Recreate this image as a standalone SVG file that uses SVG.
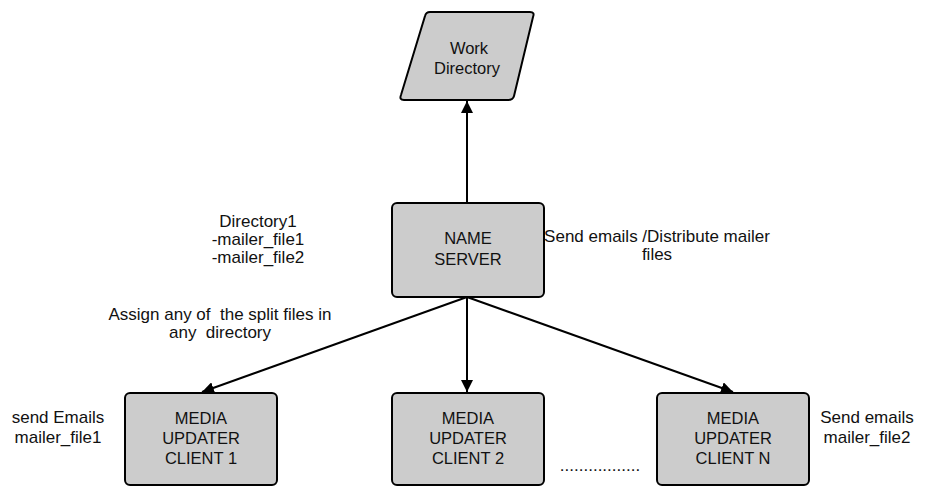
<svg xmlns="http://www.w3.org/2000/svg" width="925" height="487" viewBox="0 0 925 487">
<style>
.box{fill:#cccccc;stroke:#000;stroke-width:2}
.t{font-family:"Liberation Sans",Arial,sans-serif;font-size:17px;fill:#111;text-anchor:middle}
.b{font-size:16.5px}
.c{stroke:#000;stroke-width:2;fill:none}
</style>
<defs>
<marker id="ah" viewBox="0 0 10 10" refX="10" refY="5" markerWidth="6" markerHeight="6" orient="auto" markerUnits="strokeWidth">
<path d="M0,0 L10,5 L0,10 z" fill="#000"/>
</marker>
</defs>
<rect width="925" height="487" fill="#fff"/>
<g id="connectors">
<line class="c" x1="467" y1="202" x2="467" y2="101" marker-end="url(#ah)"/>
<line class="c" x1="467" y1="297" x2="202" y2="392" marker-end="url(#ah)"/>
<line class="c" x1="467" y1="297" x2="467" y2="392" marker-end="url(#ah)"/>
<line class="c" x1="467" y1="297" x2="733" y2="392" marker-end="url(#ah)"/>
</g>
<g id="work-directory">
<path class="box" d="M430,12 L530,12 Q535,12 533,17 L514,96 Q513,100 508,100 L404,100 Q399,100 401,95 L425,16 Q426,12 430,12 Z"/>
<text class="t b" x="469" y="54">Work</text>
<text class="t b" x="467" y="74">Directory</text>
</g>
<g id="name-server">
<rect class="box" x="392" y="203" width="152" height="94" rx="5"/>
<text class="t b" x="468" y="244">NAME</text>
<text class="t b" x="468" y="265">SERVER</text>
</g>
<g id="client-1">
<rect class="box" x="125" y="393" width="152" height="92" rx="5"/>
<text class="t b" x="201" y="424">MEDIA</text>
<text class="t b" x="201" y="444">UPDATER</text>
<text class="t b" x="201" y="464">CLIENT 1</text>
</g>
<g id="client-2">
<rect class="box" x="392" y="393" width="152" height="92" rx="5"/>
<text class="t b" x="468" y="424">MEDIA</text>
<text class="t b" x="468" y="444">UPDATER</text>
<text class="t b" x="468" y="464">CLIENT 2</text>
</g>
<g id="client-n">
<rect class="box" x="657" y="393" width="152" height="92" rx="5"/>
<text class="t b" x="733" y="424">MEDIA</text>
<text class="t b" x="733" y="444">UPDATER</text>
<text class="t b" x="733" y="464">CLIENT N</text>
</g>
<g id="labels">
<text class="t" x="258" y="227">Directory1</text>
<text class="t" x="258" y="245">-mailer_file1</text>
<text class="t" x="258" y="263">-mailer_file2</text>
<text class="t" x="220" y="320" xml:space="preserve">Assign any of  the split files in</text>
<text class="t" x="220" y="338" xml:space="preserve">any  directory</text>
<text class="t" x="657" y="242">Send emails /Distribute mailer</text>
<text class="t" x="657" y="260">files</text>
<text class="t" x="58" y="423">send Emails</text>
<text class="t" x="58" y="443">mailer_file1</text>
<text class="t" x="867" y="423">Send emails</text>
<text class="t" x="867" y="443">mailer_file2</text>
<text class="t" x="600" y="471">.................</text>
</g>
</svg>
